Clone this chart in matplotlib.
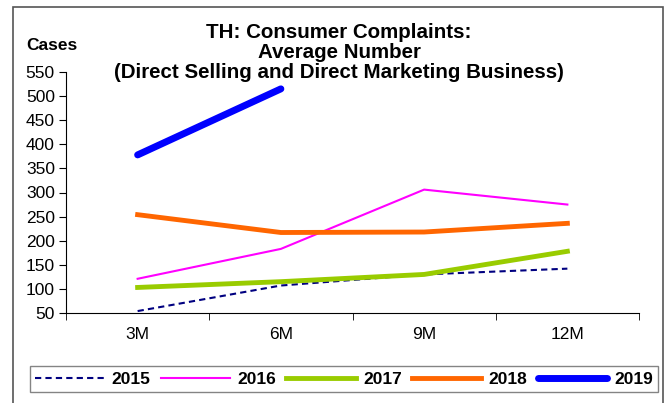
import matplotlib.pyplot as plt
from matplotlib.patches import Rectangle
import numpy as np

plt.rcParams['font.family'] = ['Liberation Sans', 'DejaVu Sans']

periods = ['3M', '6M', '9M', '12M']
v2015 = [54, 107, 130, 142]
v2016 = [121, 183, 306, 275]
v2017 = [103, 115, 130, 178]
v2018 = [254, 217, 218, 236]
v2019 = [378, 515]
title_lines = ['TH: Consumer Complaints:', 'Average Number',
               '(Direct Selling and Direct Marketing Business)']

fig = plt.figure(figsize=(6.72, 4.03), dpi=100)
# outer frame of the chart object
fig.patches.append(Rectangle((13 / 672, -0.05), 650 / 672, 1.05 - 7 / 403,
                             transform=fig.transFigure, fill=False,
                             edgecolor='#555555', linewidth=1.2))

ax = fig.add_axes([66 / 672, 1 - 313 / 403, 573 / 672, 241 / 403])
x = np.arange(len(periods))

ax.plot(x, v2015, color='#000080', lw=1.5, ls=(0, (3, 2)), label='2015')
ax.plot(x, v2016, color='#FF00FF', lw=1.5, label='2016')
ax.plot(x, v2017, color='#99CC00', lw=3.5, label='2017')
ax.plot(x, v2018, color='#FF6600', lw=3.5, label='2018')
ax.plot(x[:len(v2019)], v2019, color='#0000FF', lw=5, solid_capstyle='round',
        label='2019')

ax.set_xlim(-0.5, 3.5)
ax.set_ylim(50, 550)
ax.set_yticks(range(50, 551, 50))
ax.set_xticks(x)
ax.set_xticklabels(periods)
ax.set_xticks(np.arange(-0.5, 3.6, 1), minor=True)
ax.tick_params(axis='x', which='major', length=0, pad=10, labelsize=12.5)
ax.tick_params(axis='x', which='minor', length=5, direction='out')
ax.tick_params(axis='y', length=5, labelsize=12.5, pad=3)
for s in ['top', 'right']:
    ax.spines[s].set_visible(False)

# title: one text per line so the spacing matches
for i, line in enumerate(title_lines):
    fig.text(339 / 672, 1 - (33 + 20 * i) / 403, line, ha='center', va='center',
             fontsize=14.8, fontweight='bold')
fig.text(52 / 672, 1 - 45 / 403, 'Cases', ha='center', va='center',
         fontsize=12.5, fontweight='bold')

leg = fig.legend(loc='center', bbox_to_anchor=(344 / 672, 1 - 379 / 403), ncol=5,
                 fancybox=False, edgecolor='#666666', handlelength=4.0,
                 columnspacing=0.6, handletextpad=0.4, borderpad=0.3,
                 prop={'weight': 'bold', 'size': 12.5})
leg.get_frame().set_linewidth(1.0)

fig.savefig('out.png', dpi=100)
